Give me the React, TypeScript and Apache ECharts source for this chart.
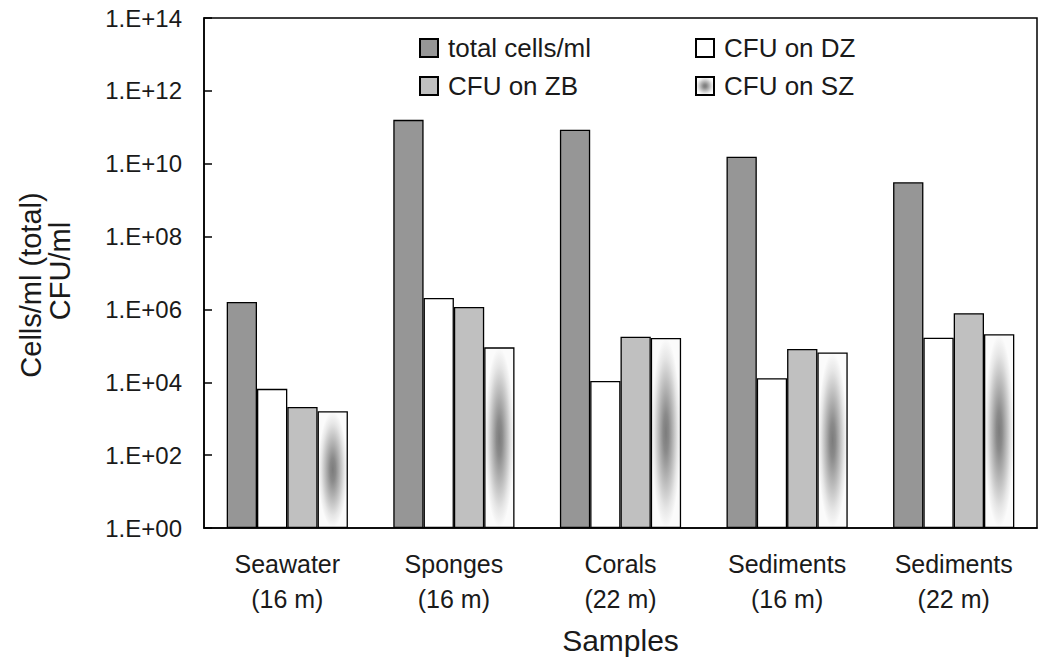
import React, { useEffect, useRef } from "react";
import * as echarts from "echarts";

// Sample sites (two-line axis labels)
const categories = [
  "Seawater\n(16 m)",
  "Sponges\n(16 m)",
  "Corals\n(22 m)",
  "Sediments\n(16 m)",
  "Sediments\n(22 m)",
];

// Counts per ml
const totalCells = [1.6e6, 1.6e11, 8.6e10, 1.55e10, 3.1e9];
const cfuDZ = [6.6e3, 2.05e6, 1.08e4, 1.3e4, 1.67e5];
const cfuZB = [2.1e3, 1.17e6, 1.78e5, 8.2e4, 7.9e5];
const cfuSZ = [1.6e3, 9.1e4, 1.64e5, 6.6e4, 2.08e5];

const seriesNames = ["total cells/ml", "CFU on DZ", "CFU on ZB", "CFU on SZ"];

const FONT = "'Liberation Sans', Arial, sans-serif";
const TEXT = "#1a1a1a";

// Centre-out shading used for the SZ bars
const szFill = {
  type: "radial",
  x: 0.5,
  y: 0.5,
  r: 0.5,
  colorStops: [
    { offset: 0, color: "#7c7c7c" },
    { offset: 0.2, color: "#8a8a8a" },
    { offset: 0.5, color: "#b8b8b8" },
    { offset: 0.8, color: "#e6e6e6" },
    { offset: 1, color: "#fbfbfb" },
  ],
};

function expLabel(v: number): string {
  const e = Math.round(Math.log10(v));
  return "1.E+" + String(e).padStart(2, "0");
}

export default function App() {
  const ref = useRef<HTMLDivElement>(null);

  useEffect(() => {
    if (!ref.current) return;
    const chart = echarts.init(ref.current, undefined, { renderer: "svg" });

    const barBase = {
      type: "bar",
      barWidth: 30.3,
      barGap: "0%",
    };
    const border = { borderColor: "#000", borderWidth: 1.3 };

    const legendText = {
      fontFamily: FONT,
      fontSize: 26,
      color: TEXT,
      padding: [0, 0, 0, 5],
    };

    const legendBase = {
      orient: "vertical",
      top: 35,
      icon: "rect",
      itemWidth: 18,
      itemHeight: 18,
      itemGap: 12,
      padding: 0,
      textStyle: legendText,
    };

    chart.setOption({
      animation: false,
      backgroundColor: "#fff",
      grid: {
        left: 204,
        right: 3,
        top: 18,
        bottom: 135,
        show: true,
        borderColor: "#000",
        borderWidth: 1.5,
        backgroundColor: "transparent",
      },
      legend: [
        { ...legendBase, data: [seriesNames[0], seriesNames[2]], left: 419 },
        { ...legendBase, data: [seriesNames[1], seriesNames[3]], left: 695 },
      ],
      xAxis: {
        type: "category",
        data: categories,
        name: "Samples",
        nameLocation: "middle",
        nameGap: 97,
        nameTextStyle: { fontFamily: FONT, fontSize: 30, color: TEXT },
        axisLine: { lineStyle: { color: "#000", width: 1.5 } },
        axisTick: { show: false },
        axisLabel: {
          fontFamily: FONT,
          fontSize: 25,
          lineHeight: 35,
          color: TEXT,
          margin: 18,
        },
        splitLine: { show: false },
      },
      yAxis: {
        type: "log",
        logBase: 10,
        min: 1,
        max: 1e14,
        interval: 2,
        axisLine: { show: true, lineStyle: { color: "#000", width: 1.5 } },
        axisTick: {
          show: true,
          inside: true,
          length: 8,
          lineStyle: { color: "#000", width: 1.5 },
        },
        axisLabel: {
          fontFamily: FONT,
          fontSize: 24,
          color: TEXT,
          margin: 22,
          formatter: expLabel,
        },
        splitLine: { show: false },
        minorTick: { show: false },
      },
      graphic: [
        {
          type: "text",
          x: 31,
          y: 285,
          rotation: Math.PI / 2,
          style: {
            text: "Cells/ml (total)",
            fontFamily: FONT,
            fontSize: 29,
            fill: TEXT,
            textAlign: "center",
            textVerticalAlign: "middle",
          },
        },
        {
          type: "text",
          x: 60,
          y: 271,
          rotation: Math.PI / 2,
          style: {
            text: "CFU/ml",
            fontFamily: FONT,
            fontSize: 29,
            fill: TEXT,
            textAlign: "center",
            textVerticalAlign: "middle",
          },
        },
      ],
      series: [
        {
          ...barBase,
          name: seriesNames[0],
          data: totalCells,
          itemStyle: { color: "#969696", ...border },
        },
        {
          ...barBase,
          name: seriesNames[1],
          data: cfuDZ,
          itemStyle: { color: "#ffffff", ...border },
        },
        {
          ...barBase,
          name: seriesNames[2],
          data: cfuZB,
          itemStyle: { color: "#c0c0c0", ...border },
        },
        {
          ...barBase,
          name: seriesNames[3],
          data: cfuSZ,
          itemStyle: { color: szFill, ...border },
        },
      ],
    });

    return () => chart.dispose();
  }, []);

  return (
    <div
      ref={ref}
      style={{ position: "fixed", left: 0, top: 0, width: 1040, height: 663 }}
    />
  );
}
